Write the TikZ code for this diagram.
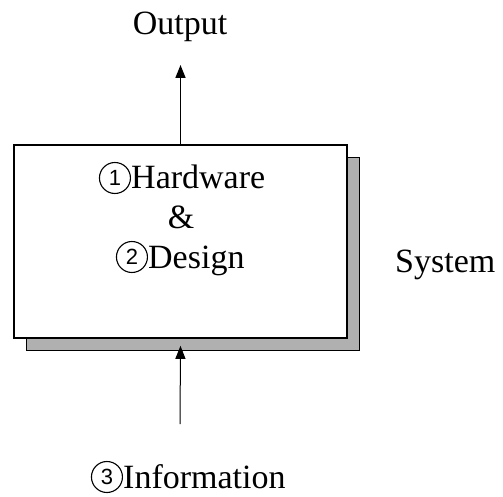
\documentclass[tikz,border=0pt]{standalone}
\usepackage{fontspec}
\setmainfont{Liberation Serif}
\newfontfamily\digitfont{Liberation Sans}
\usepackage{tikz}
\usetikzlibrary{arrows.meta,positioning}
\definecolor{shadowgray}{RGB}{176, 176, 176}
\tikzset{
    label text/.style={font=\fontsize{34}{40}\selectfont, inner sep=0pt},
    circnum/.style={circle, draw, line width=1.1pt, minimum size=31pt, inner sep=0pt, font=\digitfont\fontsize{22}{22}\selectfont},
    flow arrow/.style={-{Triangle[length=13pt,width=10pt]}},
}

\begin{document}
\begin{tikzpicture}[x=1pt,y=1pt]
    \useasboundingbox (0,0) rectangle (503,496);
    % shadow behind the main block
    \filldraw[fill=shadowgray, draw=black, line width=0.6pt] (26,146) rectangle (359,339);
    \node[draw, fill=white, line width=1.6pt, minimum width=333pt, minimum height=193pt, inner sep=0pt] (sysbox) at (180.5,254.5) {};

    % the two parts inside the block
    \node[label text, anchor=base west] (hw) at (131,307) {Hardware};
    \node[circnum, anchor=east] (hwnum) at ([yshift=11pt]hw.base west) {1};
    \node[label text, anchor=base] (amp) at (181,268) {\&};
    \node[label text, anchor=base west] (dsg) at (148,228) {Design};
    \node[circnum, anchor=east] (dsgnum) at ([yshift=11pt]dsg.base west) {2};

    \node[label text, anchor=base west] (sys) at (395,224) {System};
    \node[label text, anchor=base] (out) at (180,461) {Output};
    \node[label text, anchor=base west] (info) at (123,8) {Information};
    \node[circnum, anchor=east] (infonum) at ([yshift=11pt]info.base west) {3};

    \coordinate (outtip) at (180,431);
    \coordinate (infotail) at (180,72);
    \draw[flow arrow, line width=1.6pt] (sysbox.north) -- (sysbox.north |- outtip);
    \draw[flow arrow, line width=1pt] (infotail) -- ([yshift=-7pt]sysbox.south);
\end{tikzpicture}
\end{document}
